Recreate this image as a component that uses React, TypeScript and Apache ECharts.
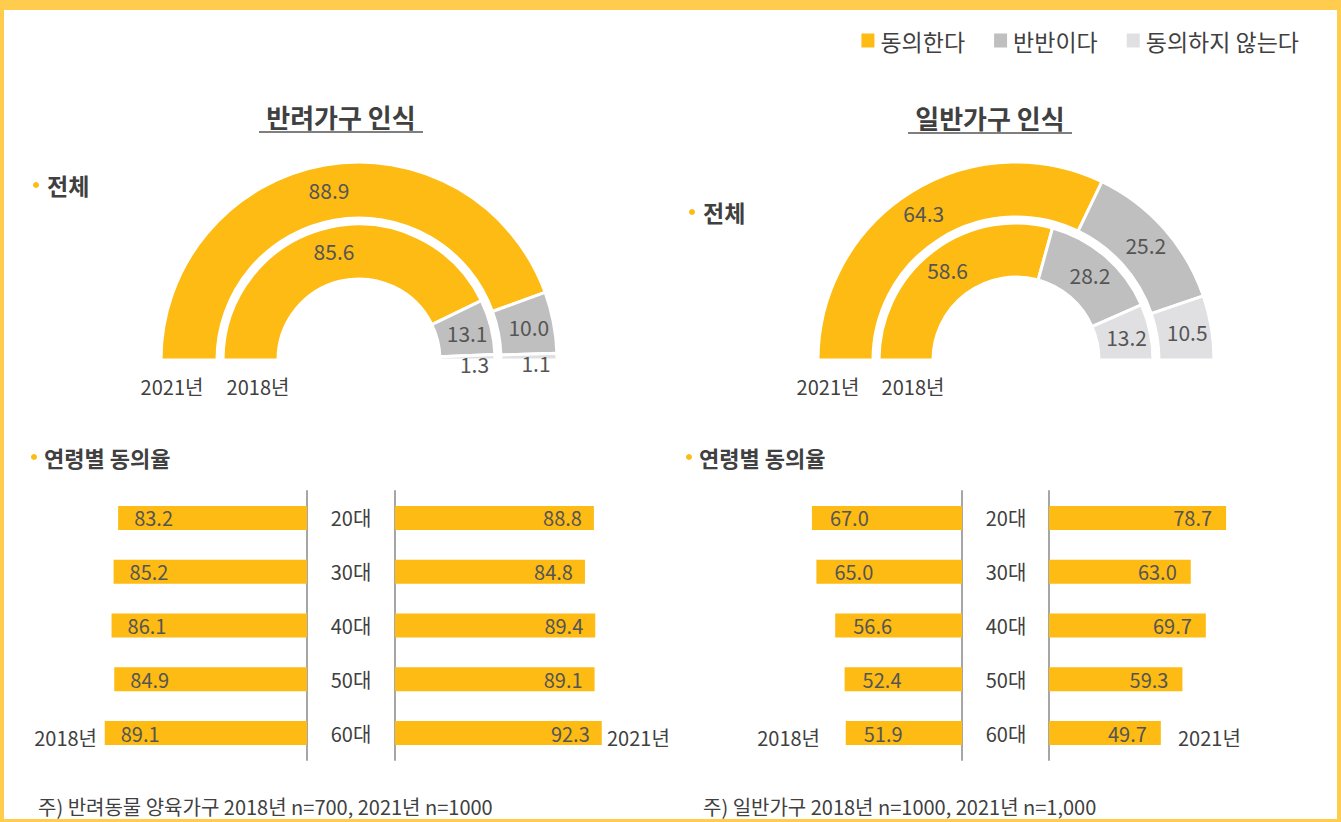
import React, { useEffect, useRef } from "react";
import * as echarts from "echarts";

const ageCategories = ["20대", "30대", "40대", "50대", "60대"];
const pet2018 = [83.2, 85.2, 86.1, 84.9, 89.1];
const pet2021 = [88.8, 84.8, 89.4, 89.1, 92.3];
const gen2018 = [67.0, 65.0, 56.6, 52.4, 51.9];
const gen2021 = [78.7, 63.0, 69.7, 59.3, 49.7];

const legendNames = ["동의한다", "반반이다", "동의하지 않는다"];
const petDonut2021 = [88.9, 10.0, 1.1];
const petDonut2018 = [85.6, 13.1, 1.3];
const genDonut2021 = [64.3, 25.2, 10.5];
const genDonut2018 = [58.6, 28.2, 13.2];

const YELLOW = "#FDBB13";
const GRAY = "#BFBFBF";
const LIGHT = "#E0E0E2";
const BORDER = "#FFCC4D";
const TEXT = "#404040";
const FONT = "'Noto Sans CJK KR', 'Noto Sans', sans-serif";
const segColors = [YELLOW, GRAY, LIGHT];

const fmt = (v: number) => v.toFixed(1);

function pieSeries(values: number[], center: [number, number], radius: [number, number]) {
  return {
    type: "pie",
    center,
    radius,
    startAngle: 180,
    endAngle: 360,
    clockwise: true,
    avoidLabelOverlap: false,
    silent: true,
    itemStyle: { borderColor: "#fff", borderWidth: 3 },
    label: {
      show: true,
      position: "inside",
      fontSize: 21,
      color: "#555",
      fontFamily: FONT,
      formatter: (p: any) => fmt(p.value),
    },
    labelLine: { show: false },
    data: values.map((v, i) => ({
      name: legendNames[i],
      value: v,
      itemStyle: { color: segColors[i] },
      label: v < 3 ? { offset: [4, 6] } : undefined,
    })),
  };
}

function barSeries(values: number[], gridIdx: number, left: boolean, dist: number) {
  return {
    type: "bar",
    xAxisIndex: gridIdx,
    yAxisIndex: gridIdx,
    barWidth: 24,
    silent: true,
    itemStyle: { color: YELLOW },
    label: {
      show: true,
      position: left ? "insideLeft" : "insideRight",
      distance: dist,
      fontSize: 20,
      color: "#555",
      fontFamily: FONT,
      formatter: (p: any) => fmt(p.value),
    },
    data: values,
  };
}

const gridDefs = [
  { left: 80, width: 227 },
  { left: 395, width: 224 },
  { left: 738, width: 224 },
  { left: 1049, width: 225 },
];

export default function App() {
  const ref = useRef<HTMLDivElement>(null);
  useEffect(() => {
    if (!ref.current) return;
    const chart = echarts.init(ref.current, null, { renderer: "svg" });
    const text = (x: number, y: number, t: string, size: number, opts: any = {}) => ({
      type: "text",
      x,
      y,
      style: {
        text: t,
        fontSize: size,
        fontFamily: FONT,
        fill: TEXT,
        textAlign: opts.align || "left",
        textVerticalAlign: "middle",
        fontWeight: opts.bold ? "bold" : "normal",
      },
    });
    const bullet = (x: number, y: number) => ({
      type: "circle",
      shape: { cx: x, cy: y, r: 3 },
      style: { fill: YELLOW },
    });
    const option: any = {
      animation: false,
      backgroundColor: "#fff",
      legend: {
        data: legendNames,
        right: 42,
        top: 29,
        padding: 0,
        icon: "rect",
        itemWidth: 15,
        itemHeight: 16,
        itemGap: 27,
        selectedMode: false,
        textStyle: { fontSize: 23, color: TEXT, fontFamily: FONT },
      },
      grid: gridDefs.map((g) => ({ left: g.left, width: g.width, top: 491, height: 269 })),
      xAxis: gridDefs.map((_, i) => ({
        type: "value",
        gridIndex: i,
        min: 0,
        max: 100,
        inverse: i === 0 || i === 2,
        show: false,
      })),
      yAxis: gridDefs.map((_, i) => {
        const isLeftPanel = i === 0 || i === 2;
        return {
          type: "category",
          gridIndex: i,
          data: ageCategories,
          inverse: true,
          position: isLeftPanel ? "right" : "left",
          axisTick: { show: false },
          axisLine: { show: true, lineStyle: { color: "#A6A6A6", width: 2 } },
          axisLabel: {
            show: !isLeftPanel,
            margin: i === 1 ? 44 : 43,
            align: "center",
            fontSize: 20,
            color: TEXT,
            fontFamily: FONT,
          },
          splitLine: { show: false },
        };
      }),
      series: [
        pieSeries(petDonut2021, [359, 360], [142, 198]),
        pieSeries(petDonut2018, [359, 360], [81, 136]),
        pieSeries(genDonut2021, [1016, 360], [143, 198]),
        pieSeries(genDonut2018, [1016, 360], [83, 137]),
        barSeries(pet2018, 0, true, 16),
        barSeries(pet2021, 1, false, 12),
        barSeries(gen2018, 2, true, 18),
        barSeries(gen2021, 3, false, 14),
      ],
      graphic: [
        { type: "rect", shape: { x: 0, y: 0, width: 1341, height: 10 }, style: { fill: BORDER } },
        { type: "rect", shape: { x: 0, y: 0, width: 4, height: 822 }, style: { fill: BORDER } },
        { type: "rect", shape: { x: 1337, y: 0, width: 4, height: 822 }, style: { fill: BORDER } },
        { type: "rect", shape: { x: 0, y: 819, width: 1341, height: 3 }, style: { fill: BORDER } },
        text(341, 116, "반려가구 인식", 26, { align: "center", bold: true }),
        { type: "line", shape: { x1: 259, y1: 132, x2: 423, y2: 132 }, style: { stroke: "#555", lineWidth: 1.5 } },
        text(990, 117, "일반가구 인식", 26, { align: "center", bold: true }),
        { type: "line", shape: { x1: 908, y1: 133, x2: 1072, y2: 133 }, style: { stroke: "#555", lineWidth: 1.5 } },
        bullet(36, 185),
        text(47, 185, "전체", 23, { bold: true }),
        bullet(692, 212),
        text(703, 212, "전체", 23, { bold: true }),
        text(172, 386, "2021년", 20, { align: "center" }),
        text(258, 386, "2018년", 20, { align: "center" }),
        text(828, 386, "2021년", 20, { align: "center" }),
        text(913, 386, "2018년", 20, { align: "center" }),
        bullet(34, 457),
        text(44, 457, "연령별 동의율", 22, { bold: true }),
        bullet(689, 457),
        text(699, 457, "연령별 동의율", 22, { bold: true }),
        text(97, 737, "2018년", 20, { align: "right" }),
        text(607, 737, "2021년", 20),
        text(820, 737, "2018년", 20, { align: "right" }),
        text(1178, 737, "2021년", 20),
        text(38, 806, "주) 반려동물 양육가구 2018년 n=700, 2021년 n=1000", 20),
        text(703, 806, "주) 일반가구 2018년 n=1000, 2021년 n=1,000", 20),
      ],
    };
    chart.setOption(option);
    return () => chart.dispose();
  }, []);
  return (
    <div
      ref={ref}
      style={{ position: "absolute", left: 0, top: 0, width: 1341, height: 822 }}
    />
  );
}
